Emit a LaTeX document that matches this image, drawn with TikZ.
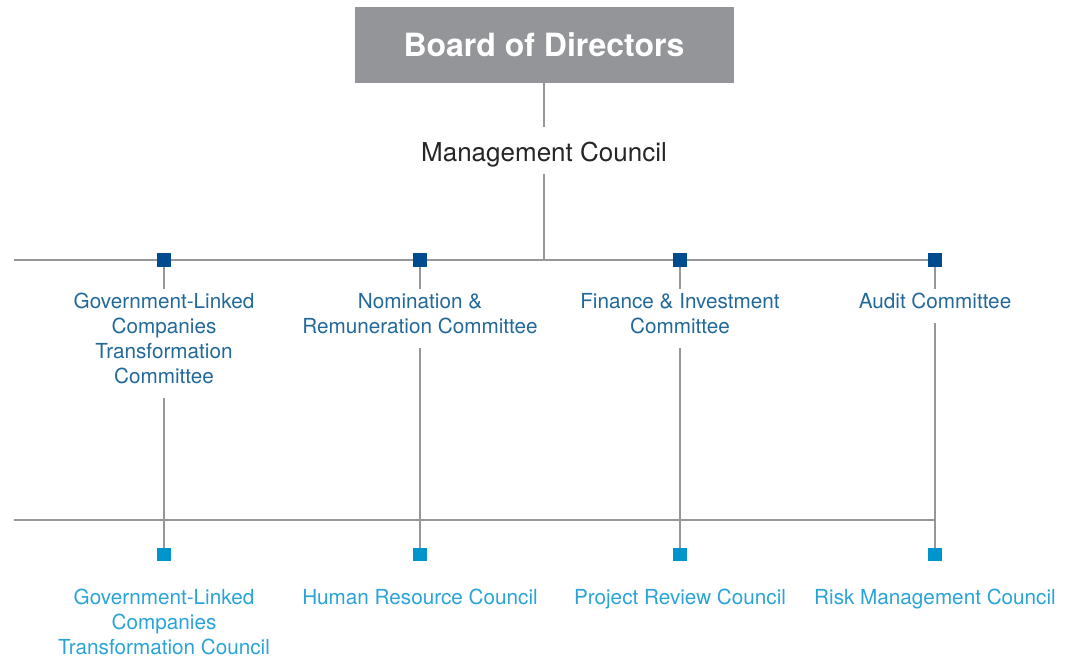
\documentclass[tikz,border=0pt]{standalone}
\usepackage{fontspec}
\setmainfont{TeX Gyre Heros}
\usetikzlibrary{positioning}
\definecolor{boxgray}{RGB}{148,149,153}
\definecolor{linegray}{RGB}{150,151,154}
\definecolor{commblue}{RGB}{34,105,154}
\definecolor{sqdark}{RGB}{0,75,141}
\definecolor{councilblue}{RGB}{42,164,216}
\definecolor{sqlight}{RGB}{0,148,204}
\tikzset{
	board_box/.style = {
		rectangle,
		fill=boxgray,
		text=white,
		font=\fontsize{32}{36}\selectfont\bfseries,
		minimum width=379pt,
		minimum height=76pt,
		inner sep=0pt
	},
	mgmt_text/.style = {
		text=black!85,
		font=\fontsize{26}{30}\selectfont,
		inner sep=7pt
	},
	comm_text/.style = {
		align=center,
		text=commblue,
		font=\fontsize{20.7}{25}\selectfont,
		inner sep=4pt,
		anchor=north
	},
	council_text/.style = {
		comm_text,
		text=councilblue
	},
	sq_dark/.style = {
		rectangle,
		fill=sqdark,
		inner sep=0pt,
		minimum size=13.5pt
	},
	sq_light/.style = {
		sq_dark,
		fill=sqlight
	},
	conn_line/.style = {
		draw=linegray,
		line width=2.4pt
	},
}

\begin{document}
\begin{tikzpicture}[x=1pt, y=1pt]
\useasboundingbox (0,0) rectangle (1072,-661);
\node [board_box] (board) at (544,-45) {Board of Directors};
\node [mgmt_text, anchor=base] (mgmt) at (544,-161) {Management Council};
\coordinate (top_l) at (14,-260);
\coordinate (top_r) at (935,-260);
\coordinate (bot_l) at (14,-520);
\coordinate (bot_r) at (935,-520);
\draw [conn_line, shorten >=7pt] (board) -- (mgmt);
\draw [conn_line] (mgmt) -- (mgmt |- top_l);
\draw [conn_line] (top_l) -- (top_r);
\draw [conn_line] (bot_l) -- (bot_r);
\node [sq_dark] (sq1) at (164,-260) {};
\node [sq_dark] (sq2) at (420,-260) {};
\node [sq_dark] (sq3) at (680,-260) {};
\node [sq_dark] (sq4) at (935,-260) {};
\node [comm_text] (comm1) at (164,-289) {Government-Linked\\Companies\\Transformation\\Committee};
\node [comm_text] (comm2) at (420,-289) {Nomination \&\\Remuneration Committee};
\node [comm_text] (comm3) at (680,-289) {Finance \& Investment\\Committee};
\node [comm_text] (comm4) at (935,-289) {Audit Committee};
\node [sq_light] (bsq1) at (164,-554.5) {};
\node [sq_light] (bsq2) at (420,-554.5) {};
\node [sq_light] (bsq3) at (680,-554.5) {};
\node [sq_light] (bsq4) at (935,-554.5) {};
\node [council_text] (coun1) at (164,-584.5) {Government-Linked\\Companies\\Transformation Council};
\node [council_text] (coun2) at (420,-584.5) {Human Resource Council};
\node [council_text] (coun3) at (680,-584.5) {Project Review Council};
\node [council_text] (coun4) at (935,-584.5) {Risk Management Council};
\foreach \i in {1,2,3,4} {
	\draw [conn_line] (sq\i) -- (comm\i);
	\draw [conn_line, shorten <=10pt] (comm\i) -- (bsq\i);
}
\end{tikzpicture}
\end{document}
